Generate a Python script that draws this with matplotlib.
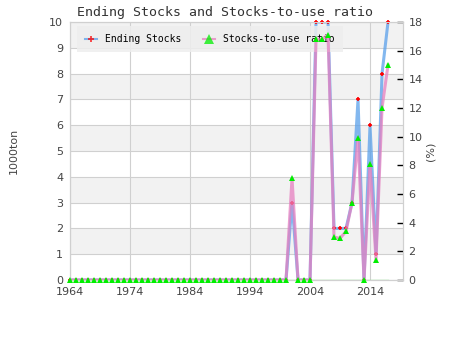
import matplotlib
matplotlib.use("Agg")
import matplotlib.pyplot as plt
from matplotlib.lines import Line2D

years = list(range(1964, 2018))
stocks = [0] * 37 + [3, 0, 0, 0, 10, 10, 10, 2, 2, 2, 3, 7, 0, 6, 1, 8, 10]
ratio = [0] * 37 + [7.1, 0, 0, 0, 16.8, 16.8, 17.1, 3.0, 2.9, 3.4, 5.4, 9.9, 0, 8.1, 1.4, 12.0, 15.0]
xticks = [1964, 1974, 1984, 1994, 2004, 2014]

blue = "#5aa0ea"
pink = "#e680c0"
green = "#00ee00"
grid_c = "#d0d0d0"
txt_c = "#444444"
mono = "DejaVu Sans Mono"

fig = plt.figure(figsize=(4.5, 3.5), dpi=100)
ax = fig.add_axes([0.1556, 0.2, 0.74, 0.7371])
ax2 = ax.twinx()

# striped background
for lo in range(1, 10, 2):
    ax.axhspan(lo, lo + 1, color="#f2f2f2", zorder=0, lw=0)
for y in range(0, 11):
    ax.axhline(y, color=grid_c, lw=0.8, zorder=0.5)
for x in xticks:
    ax.axvline(x, color=grid_c, lw=0.8, zorder=0.5)

ax.plot(years, stocks, color=blue, lw=2.2, alpha=0.75, zorder=2)
ax.plot(years, stocks, ls="none", marker="+", color="red", ms=3.5, mew=1.2,
        zorder=3, clip_on=False)

ax2.plot([years[0], years[-1]], [0, 0], color="#90e890", lw=1, zorder=1)
ax2.plot(years, ratio, color=pink, lw=2.2, alpha=0.75, zorder=2)
ax2.plot(years, ratio, ls="none", marker="^", color=green, ms=5, mew=0,
         zorder=3, clip_on=False)

ax.set_xlim(1964, 2019.5)
ax.set_ylim(0, 10)
ax2.set_ylim(0, 18)
ax.set_xticks(xticks)
ax.set_yticks(range(0, 11))
ax2.set_yticks(range(0, 19, 2))

ax.tick_params(axis="both", length=0, labelsize=8, colors=txt_c, pad=5)
ax2.tick_params(axis="y", direction="in", length=4, width=1, color="black",
                labelsize=8, labelcolor=txt_c, pad=4)

for a in (ax, ax2):
    for s in a.spines.values():
        s.set_color(grid_c)
ax2.patch.set_visible(False)

ax.set_ylabel("1000ton", fontsize=8, color=txt_c, labelpad=22)
ax2.set_ylabel("(%)", fontsize=8, color=txt_c, labelpad=2)

fig.suptitle("Ending Stocks and Stocks-to-use ratio", family=mono, fontsize=9.5,
             color="#333333", x=0.5, y=0.982)

handles = [
    Line2D([], [], color=blue, lw=1.5, alpha=0.75, marker="+", mec="red", mfc="red", ms=4, mew=1.3),
    Line2D([], [], color=pink, lw=1.5, alpha=0.75, marker="^", mec=green, mfc=green, ms=7, mew=0),
]
leg = ax.legend(handles, ["Ending Stocks", "Stocks-to-use ratio"], ncol=2,
                loc="upper left", bbox_to_anchor=(0.021, 0.985), borderaxespad=0,
                prop={"family": mono, "size": 7}, frameon=True, fancybox=False,
                handlelength=1.2, handletextpad=0.8, columnspacing=2.3, borderpad=0.85)
leg.get_frame().set_facecolor("#eeeeee")
leg.get_frame().set_edgecolor("none")
leg.get_frame().set_alpha(0.85)

fig.savefig("out.png", dpi=100)
